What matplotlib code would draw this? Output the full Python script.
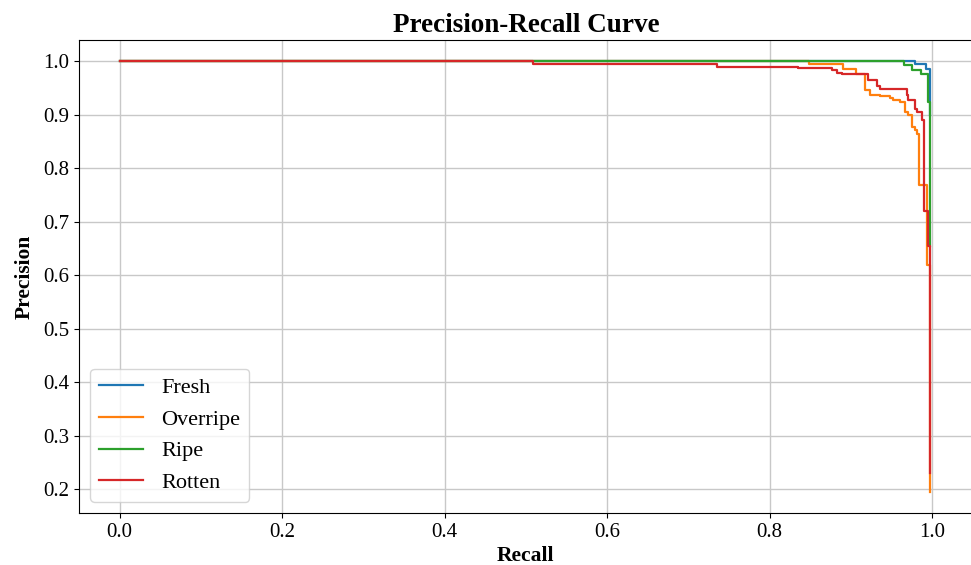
import matplotlib
matplotlib.use("Agg")
import matplotlib.pyplot as plt

plt.rcParams["font.family"] = ["Liberation Serif", "DejaVu Serif"]

# precision-recall breakpoints per class (precision holds from each recall value onwards)
classes = ["Fresh", "Overripe", "Ripe", "Rotten"]
colors = ["#1f77b4", "#ff7f0e", "#2ca02c", "#d62728"]

fresh_recall = [0.0, 0.979, 0.993, 0.998]
fresh_precision = [1.0, 0.996, 0.986, 0.90]

overripe_recall = [0.0, 0.848, 0.891, 0.907, 0.9175, 0.9236, 0.936, 0.948, 0.952,
                   0.9606, 0.9667, 0.971, 0.975, 0.979, 0.981, 0.984, 0.9935, 0.998]
overripe_precision = [1.0, 0.9956, 0.9863, 0.977, 0.9458, 0.938, 0.9346, 0.931, 0.928,
                      0.924, 0.905, 0.899, 0.877, 0.871, 0.865, 0.768, 0.62, 0.195]

ripe_recall = [0.0, 0.965, 0.975, 0.987, 0.9946, 0.998]
ripe_precision = [1.0, 0.9925, 0.985, 0.977, 0.924, 0.654]

rotten_recall = [0.0, 0.509, 0.735, 0.835, 0.8765, 0.8826, 0.8888, 0.9216, 0.9319,
                 0.936, 0.9688, 0.971, 0.979, 0.981, 0.9873, 0.9906, 0.9947, 0.998]
rotten_precision = [1.0, 0.9944, 0.9895, 0.987, 0.9844, 0.9788, 0.9757, 0.9645, 0.955,
                    0.949, 0.9364, 0.927, 0.9115, 0.905, 0.89, 0.721, 0.654, 0.23]

recalls = [fresh_recall, overripe_recall, ripe_recall, rotten_recall]
precisions = [fresh_precision, overripe_precision, ripe_precision, rotten_precision]

fig = plt.figure(figsize=(9.71, 5.65), dpi=100)
ax = fig.add_axes([0.0814, 0.092, 0.9203, 0.837])

for name, color, r, p in zip(classes, colors, recalls, precisions):
    ax.step(r, p, where="post", color=color, linewidth=1.6, label=name)

ax.set_xlim(-0.05, 1.05)
ax.set_ylim(0.155, 1.04)
ax.set_xticks([0.0, 0.2, 0.4, 0.6, 0.8, 1.0])
ax.set_yticks([0.2, 0.3, 0.4, 0.5, 0.6, 0.7, 0.8, 0.9, 1.0])
ax.tick_params(labelsize=15)
ax.grid(True, color="#c8c8c8", linewidth=1.0)

ax.set_xlabel("Recall", fontsize=15.5, fontweight="bold", labelpad=3)
ax.set_ylabel("Precision", fontsize=15.5, fontweight="bold", labelpad=6)
ax.set_title("Precision-Recall Curve", fontsize=19.5, fontweight="bold")
ax.legend(loc="lower left", fontsize=16)

fig.savefig("out.png", dpi=100)
